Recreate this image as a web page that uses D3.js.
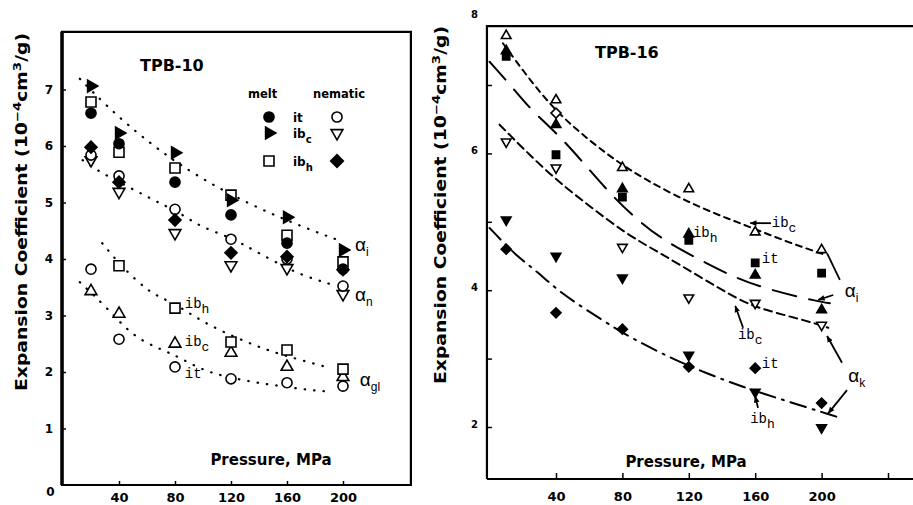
<!DOCTYPE html>
<html>
<head>
<meta charset="utf-8">
<script src="https://cdn.jsdelivr.net/npm/d3@7"></script>
<style>
body { margin: 0; background: #fff; }
text { font-family: "DejaVu Sans", sans-serif; fill: #000; }
.b { font-weight: bold; }
.mono { font-family: "Liberation Mono", "DejaVu Sans Mono", monospace; }
.greek { font-family: "Liberation Sans", sans-serif; }
</style>
</head>
<body>
<script>
//TPB-10 (left panel) - pressures and values
var p10     = [20, 40, 80, 120, 160, 200];
var p10_h   = [40, 80, 120, 160, 200];
var melt_it  = [6.58, 6.04, 5.36, 4.78, 4.28, 3.82];
var melt_ibc = [7.06, 6.23, 5.88, 5.04, 4.74, 4.16];
var melt_ibh = [6.78, 5.89, 5.61, 5.13, 4.42, 3.95];
var nem_it   = [5.84, 5.47, 4.88, 4.35, 4.00, 3.52];
var nem_ibc  = [5.75, 5.19, 4.46, 3.89, 3.84, 3.38];
var nem_ibh  = [5.98, 5.36, 4.69, 4.11, 4.04, 3.81];
var gl_it    = [3.82, 2.58, 2.09, 1.88, 1.81, 1.75];
var gl_ibc   = [3.43, 3.03, 2.50, 2.34, 2.09, 1.91];
var gl_ibh   = [3.88, 3.13, 2.53, 2.39, 2.05];

//Dotted guide curves of TPB-10 [pressure, value]
var fit_ai  = [[12,7.19],[31,6.71],[53,6.23],[71,5.89],[86,5.63],[107,5.31],[139,4.90],[173,4.55],[196,4.34]];
var fit_an  = [[14,5.75],[26,5.54],[55,5.17],[69,4.99],[84,4.81],[98,4.57],[119,4.39],[136,4.16],[164,3.78],[181,3.63],[193,3.54]];
var fit_glh = [[28,4.28],[34,4.10],[43,3.84],[60,3.45],[69,3.33],[84,3.15],[103,2.83],[141,2.42],[164,2.25],[191,2.07]];
var fit_glc = [[12,3.59],[31,3.15],[50,2.62],[71,2.39],[84,2.25],[103,1.98],[136,1.82],[150,1.77],[176,1.68],[191,1.65]];

//TPB-16 (right panel)
var p16      = [10, 40, 80, 120, 160, 200];
var p16_dia  = [40];
var r_openUp   = [7.72, 6.78, 5.79, 5.48, 4.85, 4.59];
var r_fillSq   = [7.42, 5.98, 5.36, 4.73, 4.40, 4.25];
var r_fillUp   = [7.50, 6.42, 5.48, 4.82, 4.22, 3.71];
var r_openDia  = [6.59];
var r_openDown = [6.17, 5.79, 4.63, 3.89, 3.81, 3.49];
var r_fillDown = [5.03, 4.50, 4.18, 3.05, 2.51, 1.99];
var r_fillDia  = [4.60, 3.67, 3.43, 2.88, 2.86, 2.35];

//Dashed guide curves of TPB-16
var fit_r1 = [[8,7.61],[32,6.82],[50,6.39],[71,5.98],[91,5.65],[121,5.27],[141,5.07],[154,4.95],[181,4.69],[203,4.51]];
var fit_r2 = [[0,7.34],[14,6.96],[25,6.63],[45,6.20],[71,5.44],[91,4.98],[107,4.70],[127,4.44],[147,4.19],[169,4.00],[199,3.83],[205,3.81]];
var fit_r3 = [[6,6.42],[35,5.71],[59,5.25],[83,4.81],[103,4.54],[127,4.19],[150,3.86],[164,3.72],[193,3.54],[204,3.45]];
var fit_r4 = [[0,4.91],[16,4.50],[29,4.27],[42,3.97],[68,3.56],[86,3.29],[110,3.00],[129,2.80],[153,2.58],[175,2.41],[209,2.15]];

//Tick labels
var xticksL = [40, 80, 120, 160, 200];
var yticksL = [1, 2, 3, 4, 5, 6, 7];
var xticksR = [40, 80, 120, 160, 200, 240];
var yticksR = [2, 3, 4, 5, 6, 7, 8];

var svg = d3.select("body").append("svg")
    .attr("width", 913)
    .attr("height", 505);

svg.append("defs").append("marker")
    .attr("id", "arr")
    .attr("viewBox", "0 0 10 10")
    .attr("refX", 9).attr("refY", 5)
    .attr("markerWidth", 7).attr("markerHeight", 7)
    .attr("markerUnits", "userSpaceOnUse")
    .attr("orient", "auto")
  .append("path").attr("d", "M0,1 L10,5 L0,9 z").attr("fill", "black");

//Scales
var xL = d3.scaleLinear().domain([0, 200]).range([63, 343]);
var yL = d3.scaleLinear().domain([0, 7]).range([485, 89.5]);
var xR = d3.scaleLinear().domain([0, 200]).range([489.6, 821.6]);
var yR = d3.scaleLinear().domain([2, 6]).range([427, 153.4]);

var shapes = {
    circle:  [d3.symbolCircle, 0],
    square:  [d3.symbolSquare, 0],
    up:      [d3.symbolTriangle, 0],
    down:    [d3.symbolTriangle, 180],
    right:   [d3.symbolTriangle, 90],
    diamond: [d3.symbolSquare, 45]
};

function scatter(g, xs, ys, pres, vals, shape, filled, size)
{
    var s = shapes[shape];
    g.selectAll(null).data(vals).enter().append("path")
        .attr("d", d3.symbol().type(s[0]).size(size))
        .attr("transform", function(d, i) {
            return "translate(" + xs(pres[i]) + "," + ys(d) + ") rotate(" + s[1] + ")";
        })
        .attr("fill", filled ? "black" : "white")
        .attr("stroke", "black")
        .attr("stroke-width", 1.6);
}

function curve(g, xs, ys, pts, dash, width)
{
    var line = d3.line()
        .x(function(d) { return xs(d[0]); })
        .y(function(d) { return ys(d[1]); })
        .curve(d3.curveBasis);
    return g.append("path")
        .attr("d", line(pts))
        .attr("fill", "none")
        .attr("stroke", "black")
        .attr("stroke-width", width)
        .attr("stroke-linecap", "round")
        .attr("stroke-dasharray", dash);
}

//text with a subscript
function label(g, x, y, main, sub, cls, size, subsize)
{
    var t = g.append("text").attr("x", x).attr("y", y)
        .attr("class", cls).style("font-size", size + "px");
    t.append("tspan").text(main);
    if (sub) t.append("tspan").attr("dy", 5).style("font-size", subsize + "px").text(sub);
    return t;
}

function arrow(g, x1, y1, x2, y2, head)
{
    var l = g.append("line")
        .attr("x1", x1).attr("y1", y1).attr("x2", x2).attr("y2", y2)
        .attr("stroke", "black").attr("stroke-width", 1.8);
    if (head) l.attr("marker-end", "url(#arr)");
}

function yTitle(x, cy)
{
    var t = svg.append("text")
        .attr("class", "b")
        .attr("transform", "translate(" + x + "," + cy + ") rotate(-90)")
        .attr("text-anchor", "middle")
        .attr("textLength", 358)
        .attr("lengthAdjust", "spacingAndGlyphs")
        .style("font-size", "15.5px");
    t.append("tspan").text("Expansion Coefficient (10");
    t.append("tspan").attr("dy", -6).style("font-size", "11px").text("\u22124");
    t.append("tspan").attr("dy", 6).text("cm");
    t.append("tspan").attr("dy", -6).style("font-size", "11px").text("3");
    t.append("tspan").attr("dy", 6).text("/g)");
}

//----------------------------------------------------------------- TPB-10
var gL = svg.append("g");

//frame
var fl = xL(-0.7), fr = xL(248.5), ft = yL(8.02), fb = yL(0);
gL.append("path")
    .attr("d", "M" + fl + "," + fb + " V" + ft + " H" + fr + " V" + fb + " Z")
    .attr("fill", "none").attr("stroke", "black").attr("stroke-width", 2.2);
gL.append("line").attr("x1", fl).attr("x2", fl).attr("y1", ft).attr("y2", fb)
    .attr("stroke", "black").attr("stroke-width", 3.5);

var axYL = gL.append("g").attr("class", "b")
    .attr("transform", "translate(" + fl + ",0)")
    .call(d3.axisLeft(yL).tickValues(yticksL).tickSize(-4).tickPadding(9).tickFormat(d3.format("d")));
var axXL = gL.append("g").attr("class", "b")
    .attr("transform", "translate(0," + fb + ")")
    .call(d3.axisBottom(xL).tickValues(xticksL).tickSize(-4).tickPadding(8).tickFormat(d3.format("d")));
[axYL, axXL].forEach(function(a) {
    a.select(".domain").remove();
    a.selectAll("line").attr("stroke-width", 1.5);
    a.selectAll("text").style("font-family", "DejaVu Sans").style("font-weight", "bold");
});
axYL.selectAll("text").style("font-size", "12px");
axXL.selectAll("text").style("font-size", "13px");
//origin label
gL.append("text").attr("class", "b").attr("x", xL(-9)).attr("y", yL(0) + 11)
    .attr("text-anchor", "middle").style("font-size", "12px").text("0");

curve(gL, xL, yL, fit_ai,  "0.5,9", 2.2);
curve(gL, xL, yL, fit_an,  "0.5,9", 2.2);
curve(gL, xL, yL, fit_glh, "0.5,9", 2.2);
curve(gL, xL, yL, fit_glc, "0.5,9", 2.2);

scatter(gL, xL, yL, p10,   gl_it,    "circle",  false, 80);
scatter(gL, xL, yL, p10,   gl_ibc,   "up",      false, 60);
scatter(gL, xL, yL, p10_h, gl_ibh,   "square",  false, 100);
scatter(gL, xL, yL, p10,   nem_ibc,  "down",    false, 60);
scatter(gL, xL, yL, p10,   nem_it,   "circle",  false, 80);
scatter(gL, xL, yL, p10,   nem_ibh,  "diamond", true,  72);
scatter(gL, xL, yL, p10,   melt_ibh, "square",  false, 100);
scatter(gL, xL, yL, p10,   melt_it,  "circle",  true,  80);
scatter(gL, xL, yL, p10,   melt_ibc, "right",   true,  60);

gL.append("text").attr("class", "b").attr("x", 140).attr("y", 71)
    .style("font-size", "16px").text("TPB-10");

//legend
var leg = gL.append("g").attr("class", "b");
leg.append("text").attr("x", 248).attr("y", 98).style("font-size", "11.5px").text("melt");
leg.append("text").attr("x", 313).attr("y", 98).style("font-size", "11.5px").text("nematic");
var legRows = [
    ["it", "",  117, "circle", true,  "circle",  false],
    ["ib", "c", 133, "right",  true,  "down",    false],
    ["ib", "h", 161, "square", false, "diamond", true]
];
legRows.forEach(function(r) {
    var g1 = leg.append("g");
    scatter(g1, function(v) { return v; }, function(v) { return v; }, [269], [r[2]], r[3], r[4], r[3] == "square" ? 100 : (r[3] == "circle" ? 80 : 60));
    scatter(g1, function(v) { return v; }, function(v) { return v; }, [337], [r[2]], r[5], r[6], r[5] == "diamond" ? 80 : (r[5] == "circle" ? 80 : 60));
    label(leg, 293, r[2] + 5, r[0], r[1], "b", 12, 10);
});

gL.append("text").attr("class", "b").attr("x", 271).attr("y", 465)
    .attr("text-anchor", "middle").style("font-size", "15px").text("Pressure, MPa");

label(gL, xL(208.6), yL(4.14), "\u03b1", "i",  "greek", 19, 12);
label(gL, xL(208.6), yL(3.26), "\u03b1", "n",  "greek", 19, 12);
label(gL, xL(212),   yL(1.75), "\u03b1", "gl", "greek", 19, 12);
label(gL, xL(87), yL(3.13), "ib", "h", "mono", 14, 13);
label(gL, xL(87), yL(2.46), "ib", "c", "mono", 14, 13);
label(gL, xL(87), yL(1.89), "it", "",  "mono", 14, 13);

yTitle(27, 212);

//----------------------------------------------------------------- TPB-16
var gR = svg.append("g");
var rl = xR(-1.6), rr = xR(262), rt = yR(7.86), rb = yR(1.24);
gR.append("path")
    .attr("d", "M" + rl + "," + rb + " V" + rt + " H" + rr + " M" + rl + "," + rb + " H" + rr)
    .attr("fill", "none").attr("stroke", "black").attr("stroke-width", 2.2);

var axYR = gR.append("g").attr("class", "b")
    .attr("transform", "translate(" + rl + ",0)")
    .call(d3.axisLeft(yR).tickValues(yticksR).tickSize(-5).tickPadding(9)
        .tickFormat(function(d) { return d % 2 == 0 ? d : ""; }));
var axXR = gR.append("g").attr("class", "b")
    .attr("transform", "translate(0," + rb + ")")
    .call(d3.axisBottom(xR).tickValues(xticksR).tickSize(-6).tickPadding(13)
        .tickFormat(function(d) { return d < 240 ? d : ""; }));
[axYR, axXR].forEach(function(a) {
    a.select(".domain").remove();
    a.selectAll("line").attr("stroke-width", 1.5);
    a.selectAll("text").style("font-family", "DejaVu Sans").style("font-weight", "bold");
});
axYR.selectAll(".tick").filter(function(d) { return d == 8; }).select("line").remove();
axYR.selectAll("text").style("font-size", "10px").attr("dy", "0.05em");
axXR.selectAll("text").style("font-size", "13px");

curve(gR, xR, yR, fit_r1, "6,5", 2);
curve(gR, xR, yR, fit_r2, "24,13", 2);
curve(gR, xR, yR, fit_r3, "8,5", 2);
curve(gR, xR, yR, fit_r4, "16,7,2,7", 2);

scatter(gR, xR, yR, p16,     r_openUp,   "up",      false, 40);
scatter(gR, xR, yR, p16,     r_fillSq,   "square",  true,  52);
scatter(gR, xR, yR, p16,     r_fillUp,   "up",      true,  40);
scatter(gR, xR, yR, p16_dia, r_openDia,  "diamond", false, 50);
scatter(gR, xR, yR, p16,     r_openDown, "down",    false, 40);
scatter(gR, xR, yR, p16,     r_fillDown, "down",    true,  40);
scatter(gR, xR, yR, p16,     r_fillDia,  "diamond", true,  50);

gR.append("text").attr("class", "b").attr("x", 595).attr("y", 58)
    .style("font-size", "16px").text("TPB-16");
gR.append("text").attr("class", "b").attr("x", 686).attr("y", 467)
    .attr("text-anchor", "middle").style("font-size", "15px").text("Pressure, MPa");

//annotations
label(gR, xR(170), yR(4.92), "ib", "c", "mono", 14, 13);
arrow(gR, xR(169.5), yR(4.98), xR(157), yR(4.98), true);
label(gR, xR(122.5), yR(4.78), "ib", "h", "mono", 14, 13);
label(gR, xR(164), yR(4.40), "it", "", "mono", 14, 13);
label(gR, xR(214), yR(3.90), "\u03b1", "i", "greek", 19, 12);
arrow(gR, xR(211), yR(4.15), xR(203.3), yR(4.54), false);
arrow(gR, xR(207), yR(3.93), xR(198), yR(3.86), true);
label(gR, xR(149.6), yR(3.29), "ib", "c", "mono", 14, 13);
arrow(gR, xR(152.7), yR(3.45), xR(148), yR(3.77), true);
label(gR, xR(216), yR(2.66), "\u03b1", "k", "greek", 19, 12);
arrow(gR, xR(212.3), yR(2.94), xR(203.3), yR(3.33), true);
arrow(gR, xR(215.3), yR(2.54), xR(204), yR(2.20), true);
label(gR, xR(164), yR(2.86), "it", "", "mono", 14, 13);
label(gR, xR(157), yR(2.06), "ib", "h", "mono", 14, 13);
arrow(gR, xR(161.7), yR(2.28), xR(160), yR(2.45), true);

yTitle(446, 205);
</script>
</body>
</html>
